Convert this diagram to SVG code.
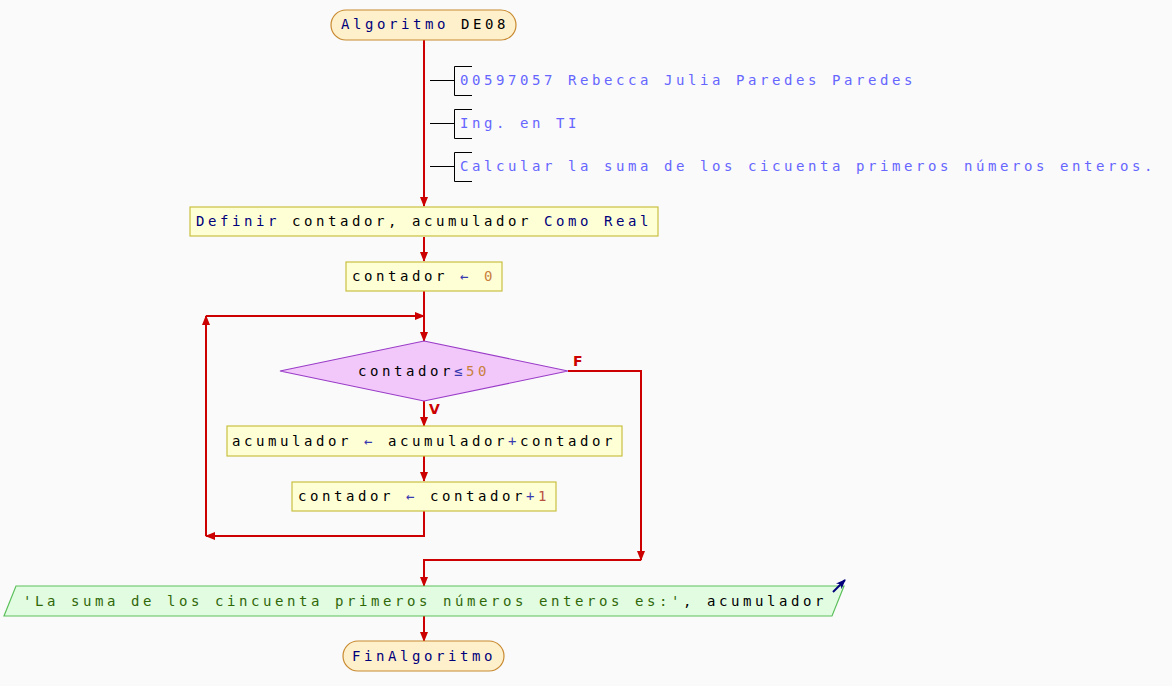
<svg xmlns="http://www.w3.org/2000/svg" width="1172" height="686" viewBox="0 0 1172 686">
<style>
text{font-family:"DejaVu Sans Mono","Liberation Mono",monospace;font-size:14px;letter-spacing:3.57px;fill:#000}
.kw{fill:#00007a}
.num{fill:#c8803c}
.one{fill:#b85040}
.op{fill:#3a3ab0}
.str{fill:#306808}
.cm{fill:#6666ff}
.term{fill:#fff0cc;stroke:#c88a30;stroke-width:1.2}
.proc{fill:#ffffd6;stroke:#c8c040;stroke-width:1.2}
.dec{fill:#f2c8fa;stroke:#9a3cc8;stroke-width:1.2}
.out{fill:#e2fce2;stroke:#5cc05c;stroke-width:1.2}
.flow{fill:none;stroke:#cc0000;stroke-width:2}
.cbr{fill:none;stroke:#000;stroke-width:1}
.lbl{font-family:"DejaVu Sans","Liberation Sans",sans-serif;font-weight:bold;font-size:14px;letter-spacing:0;fill:#cc0000}
</style>
<defs>
<marker id="ah" markerWidth="10" markerHeight="8" refX="9" refY="4" orient="auto" markerUnits="userSpaceOnUse">
<path d="M0,0 L10,4 L0,8 Z" fill="#cc0000"/>
</marker>
<marker id="ahb" markerWidth="10" markerHeight="8" refX="9" refY="4" orient="auto" markerUnits="userSpaceOnUse">
<path d="M0,0 L10,4 L0,8 L3,4 Z" fill="#00007a"/>
</marker>
</defs>
<rect width="1172" height="686" fill="#fafafa"/>

<g id="connectors">
<path class="flow" d="M424,40 V206" marker-end="url(#ah)"/>
<path class="flow" d="M424,237 V261" marker-end="url(#ah)"/>
<path class="flow" d="M424,291 V341" marker-end="url(#ah)"/>
<path class="flow" d="M424,401 V426" marker-end="url(#ah)"/>
<path class="flow" d="M424,456 V481" marker-end="url(#ah)"/>
<path class="flow" d="M424,511 V536 H206" marker-end="url(#ah)"/>
<path class="flow" d="M206,536 V316" marker-end="url(#ah)"/>
<path class="flow" d="M206,316 H424" marker-end="url(#ah)"/>
<path class="flow" d="M568,371 H641 V560" marker-end="url(#ah)"/>
<path class="flow" d="M641,560 H424 V586" marker-end="url(#ah)"/>
<path class="flow" d="M424,616 V641" marker-end="url(#ah)"/>
<text class="lbl" x="573" y="366">F</text>
<text class="lbl" x="429" y="414">V</text>
</g>

<g id="start">
<rect class="term" x="331" y="10" width="185" height="30" rx="15" ry="15"/>
<text x="341" y="29"><tspan class="kw">Algoritmo</tspan> DE08</text>
</g>

<g id="comment1">
<path class="cbr" d="M430,80.5 H454.5 M472,66.5 H454.5 V95.5 H472"/>
<text class="cm" x="460" y="85">00597057 Rebecca Julia Paredes Paredes</text>
</g>
<g id="comment2">
<path class="cbr" d="M430,123.5 H454.5 M472,109.5 H454.5 V138.5 H472"/>
<text class="cm" x="460" y="128">Ing. en TI</text>
</g>
<g id="comment3">
<path class="cbr" d="M430,166.5 H454.5 M472,152.5 H454.5 V181.5 H472"/>
<text class="cm" x="460" y="171">Calcular la suma de los cicuenta primeros números enteros.</text>
</g>

<g id="define">
<rect class="proc" x="190" y="207" width="468" height="29"/>
<text x="196" y="226"><tspan class="kw">Definir</tspan> contador, acumulador <tspan class="kw">Como Real</tspan></text>
</g>

<g id="init">
<rect class="proc" x="346" y="262" width="156" height="29"/>
<text x="352" y="281">contador <tspan class="op">←</tspan> <tspan class="num">0</tspan></text>
</g>

<g id="cond">
<polygon class="dec" points="424,341 568,371 424,401 280,371"/>
<text x="358" y="376">contador<tspan class="op">≤</tspan><tspan class="num">50</tspan></text>
</g>

<g id="acc">
<rect class="proc" x="227" y="426" width="395" height="30"/>
<text x="232" y="446">acumulador <tspan class="op">←</tspan> acumulador<tspan class="op">+</tspan>contador</text>
</g>

<g id="inc">
<rect class="proc" x="292" y="482" width="264" height="29"/>
<text x="298" y="501">contador <tspan class="op">←</tspan> contador<tspan class="op">+</tspan><tspan class="one">1</tspan></text>
</g>

<g id="output">
<polygon class="out" points="16,586 844,586 832,616 4,616"/>
<text x="23" y="606"><tspan class="str">'La suma de los cincuenta primeros números enteros es:'</tspan>, acumulador</text>
<path d="M833,592 L845,580" stroke="#00007a" stroke-width="2" fill="none" marker-end="url(#ahb)"/>
</g>

<g id="end">
<rect class="term" x="343" y="641" width="161" height="30" rx="15" ry="15"/>
<text x="352" y="661" class="kw">FinAlgoritmo</text>
</g>
</svg>
